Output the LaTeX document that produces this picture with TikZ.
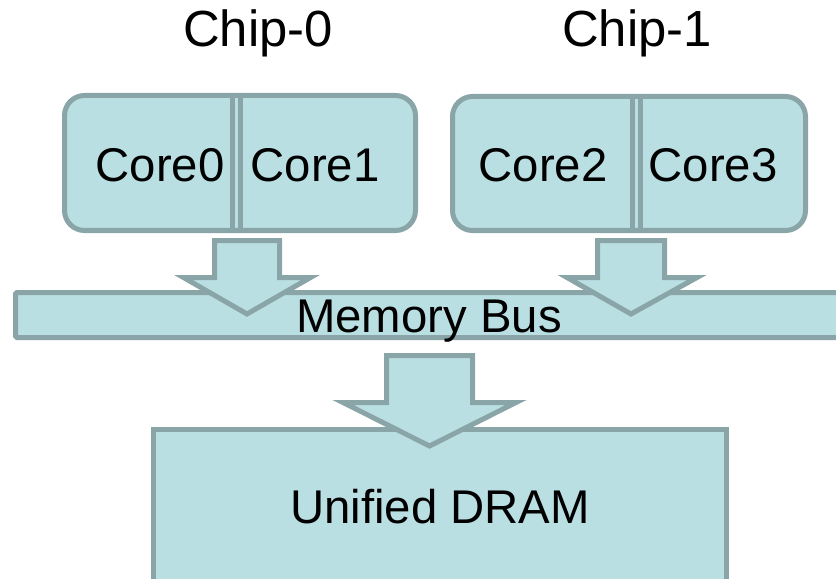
\documentclass[tikz,border=0pt]{standalone}
\usepackage{fontspec}
\setmainfont{Liberation Sans}
\definecolor{boxfill}{RGB}{186,223,227}
\definecolor{boxline}{RGB}{138,165,168}
\begin{document}
\begin{tikzpicture}[x=1bp,y=-1bp,
  blockshape/.style={fill=boxfill,draw=boxline,line width=5bp,line join=miter},
  corelabel/.style={anchor=base,inner sep=0pt,font=\fontsize{47.5}{50}\selectfont},
  chiptitle/.style={anchor=base,inner sep=0pt,font=\fontsize{51}{54}\selectfont}]
\useasboundingbox (0,0) rectangle (836,579);
\clip (0,0) rectangle (836,579);

% chips with two cores each
\draw[blockshape,rounded corners=20bp] (64.5,95.5) rectangle (415.5,230.5);
\draw[boxline,line width=5bp] (232.5,95.5) -- (232.5,230.5) (240.5,95.5) -- (240.5,230.5);
\draw[blockshape,rounded corners=20bp] (452.5,96.5) rectangle (805.5,230.5);
\draw[boxline,line width=5bp] (632.5,96.5) -- (632.5,230.5) (640.5,96.5) -- (640.5,230.5);

% memory bus
\draw[blockshape,rounded corners=1.5bp] (15.5,292.5) rectangle (860,337.5);

% unified DRAM
\draw[blockshape] (153.5,429.5) rectangle (726.5,620);

% block arrows
\draw[blockshape] (214.5,240.5) -- (279.5,240.5) -- (279.5,277.5) -- (310.5,277.5)
  -- (247,314) -- (183.5,277.5) -- (214.5,277.5) -- cycle;
\draw[blockshape] (597.5,240.5) -- (664.5,240.5) -- (664.5,277.5) -- (697,277.5)
  -- (631,314) -- (567,277.5) -- (597.5,277.5) -- cycle;
\draw[blockshape] (386.5,355.5) -- (472.5,355.5) -- (472.5,402.5) -- (516,402.5)
  -- (429.5,446) -- (343,402.5) -- (386.5,402.5) -- cycle;

% labels
\node[chiptitle] (chip0) at (258,47) {Chip-0};
\node[chiptitle] (chip1) at (637,47) {Chip-1};
\node[corelabel] (core0) at (160,182) {Core0};
\node[corelabel] (core1) at (315,182) {Core1};
\node[corelabel] (core2) at (543,182) {Core2};
\node[corelabel] (core3) at (713,182) {Core3};
\node[corelabel] (bus) at (429,332) {Memory Bus};
\node[corelabel] (dram) at (440,523) {Unified DRAM};
\end{tikzpicture}
\end{document}
